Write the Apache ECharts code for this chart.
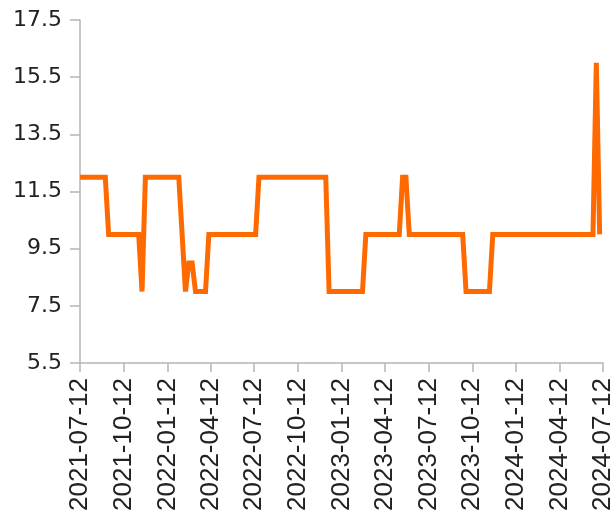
<!DOCTYPE html>
<html>
<head>
<meta charset="utf-8">
<script src="https://cdn.jsdelivr.net/npm/echarts@6.0.0/dist/echarts.min.js"></script>
<style>
html,body{margin:0;padding:0;background:#ffffff;}
#chart{width:616px;height:515px;}
</style>
</head>
<body>
<div id="chart"></div>
<script>
// ---- data ----
const axisStart = '2021-07-12';
const axisEnd = '2024-07-12';
const labelMonths = ['01', '04', '07', '10'];
const labelDay = '12';
const yTicks = [5.5, 7.5, 9.5, 11.5, 13.5, 15.5, 17.5];

const pointDates = [
  '2021-07-12', '2021-09-03', '2021-09-10', '2021-11-12', '2021-11-19', '2021-11-26',
  '2022-02-04', '2022-02-18', '2022-02-25', '2022-03-04', '2022-03-11', '2022-04-01',
  '2022-04-08', '2022-07-15', '2022-07-22', '2022-12-09', '2022-12-16', '2023-02-24',
  '2023-03-03', '2023-05-12', '2023-05-19', '2023-05-26', '2023-06-02', '2023-09-22',
  '2023-09-29', '2023-11-17', '2023-11-24', '2024-06-21', '2024-06-28', '2024-07-05'
];
const pointValues = [
  12, 12, 10, 10, 8, 12,
  12, 8, 9, 9, 8, 8,
  10, 10, 12, 12, 8, 8,
  10, 10, 12, 12, 10, 10,
  8, 8, 10, 10, 16, 10
];

// ---- build the day-by-day category list ----
function pad(n) { return n < 10 ? '0' + n : '' + n; }
function dayList(a, b) {
  const pa = a.split('-').map(Number), pb = b.split('-').map(Number);
  let t = Date.UTC(pa[0], pa[1] - 1, pa[2]);
  const end = Date.UTC(pb[0], pb[1] - 1, pb[2]);
  const out = [];
  while (t <= end) {
    const d = new Date(t);
    out.push(d.getUTCFullYear() + '-' + pad(d.getUTCMonth() + 1) + '-' + pad(d.getUTCDate()));
    t += 86400000;
  }
  return out;
}
const days = dayList(axisStart, axisEnd);
function isLabelDay(idx, value) {
  const p = value.split('-');
  return p[2] === labelDay && labelMonths.indexOf(p[1]) >= 0;
}
const seriesData = pointDates.map((d, i) => [d, pointValues[i]]);

const chart = echarts.init(document.getElementById('chart'), null, { renderer: 'canvas' });
chart.setOption({
  animation: false,
  backgroundColor: '#ffffff',
  grid: { left: 80, right: 11, top: 20, bottom: 152, containLabel: false },
  xAxis: {
    type: 'category',
    data: days,
    boundaryGap: false,
    axisLine: { show: true, lineStyle: { color: '#b5b5b5', width: 1.5 } },
    axisTick: { show: true, length: 9, interval: isLabelDay, lineStyle: { color: '#b5b5b5', width: 1.5 } },
    axisLabel: {
      show: true,
      interval: isLabelDay,
      rotate: 90,
      margin: 15,
      color: '#222222',
      fontFamily: 'Liberation Sans',
      fontSize: 26
    },
    splitLine: { show: false }
  },
  yAxis: {
    type: 'value',
    min: 5.5,
    max: 17.5,
    axisLine: { show: true, lineStyle: { color: '#b5b5b5', width: 1.5 } },
    axisTick: { show: true, length: 10, customValues: yTicks, lineStyle: { color: '#b5b5b5', width: 1.5 } },
    axisLabel: {
      show: true,
      customValues: yTicks,
      margin: 18,
      color: '#222222',
      fontFamily: 'DejaVu Sans',
      fontSize: 22,
      formatter: v => v.toFixed(1)
    },
    splitLine: { show: false }
  },
  series: [{
    type: 'line',
    data: seriesData,
    showSymbol: false,
    symbol: 'none',
    lineStyle: { color: '#ff6a00', width: 5, join: 'miter' },
    itemStyle: { color: '#ff6a00' }
  }]
});
</script>
</body>
</html>
